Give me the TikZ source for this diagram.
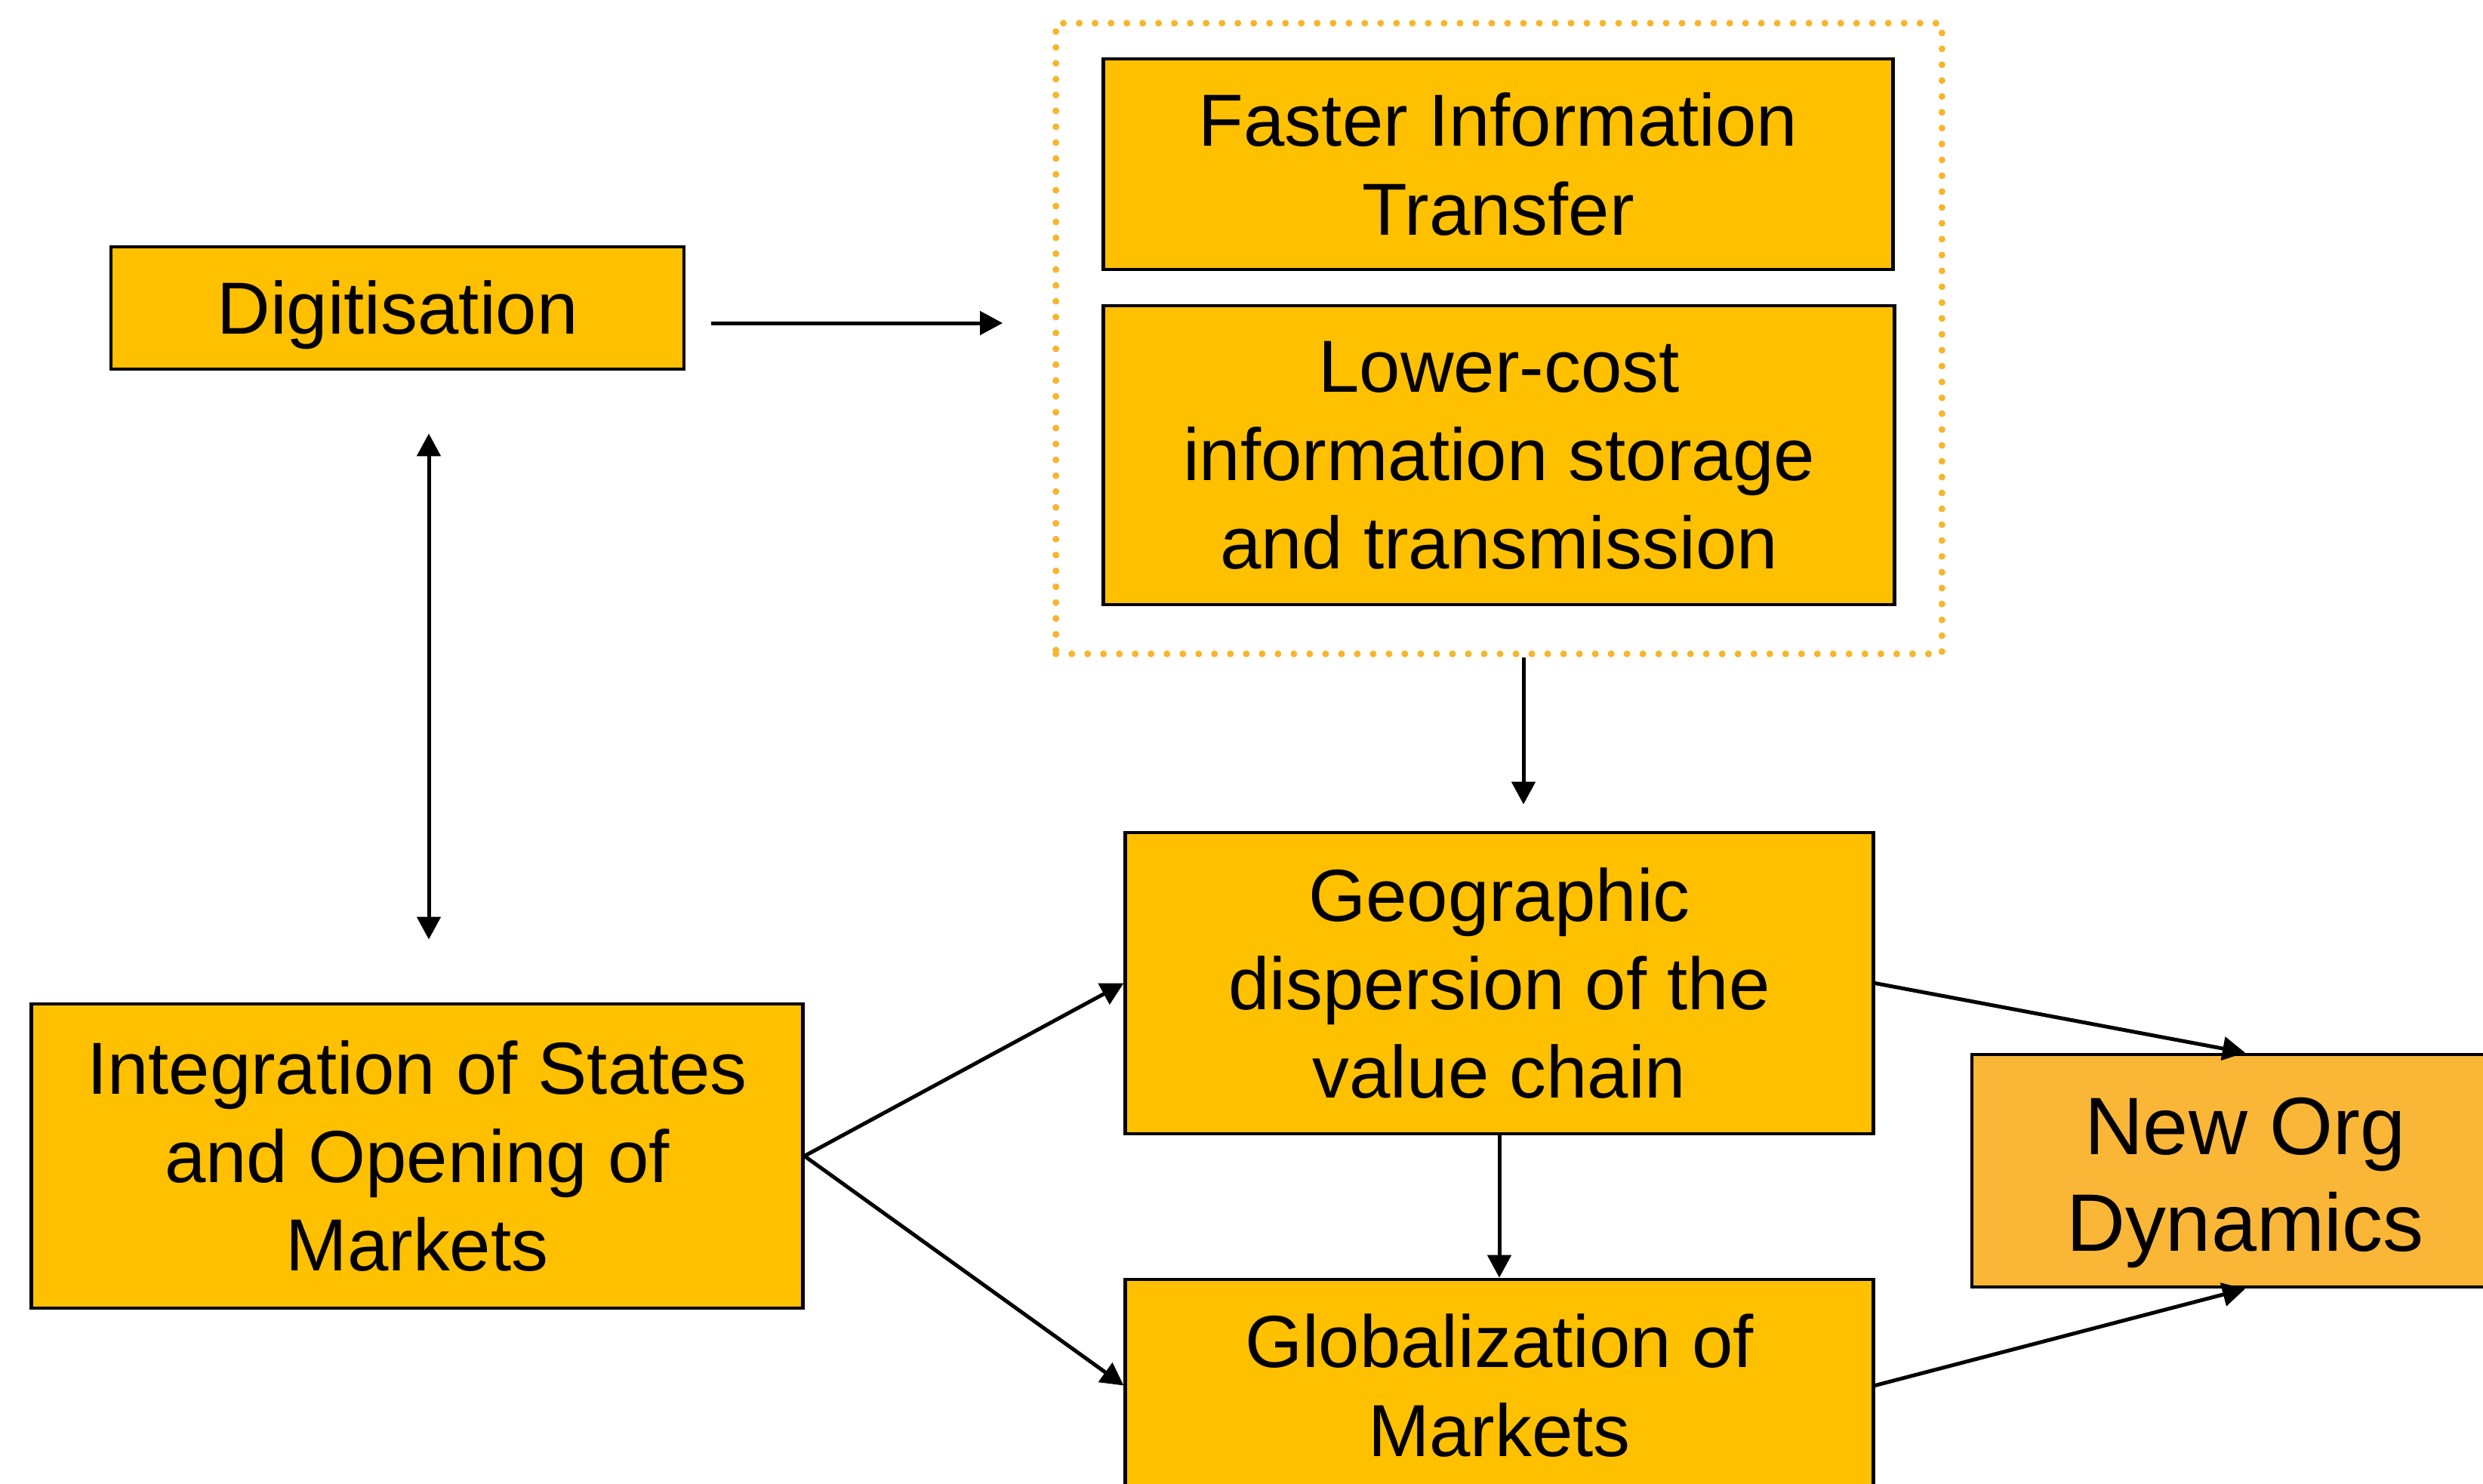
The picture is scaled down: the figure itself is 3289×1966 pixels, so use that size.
\documentclass[tikz,border=0pt]{standalone}
\usepackage{fontspec}
\setmainfont{Liberation Sans}
\usetikzlibrary{arrows.meta,calc}
\definecolor{boxgold}{HTML}{FFC000}
\definecolor{orgorange}{HTML}{FAB636}
\definecolor{dotorange}{HTML}{F7B52C}
\tikzset{
  gbox/.style={draw=black, line width=0.045cm, fill=boxgold, inner sep=0pt, align=center,
    font=\fontsize{27.8}{33.3}\selectfont},
  tip/.style={Triangle[length=0.30cm,width=0.31cm]},
  arr/.style={draw=black, line width=0.05cm, -{Triangle[length=0.30cm,width=0.31cm]}},
  darr/.style={draw=black, line width=0.05cm, {Triangle[length=0.30cm,width=0.31cm]}-{Triangle[length=0.30cm,width=0.31cm]}},
  dotframe/.style={draw=dotorange, line width=0.09cm, line cap=round, dash pattern=on 0pt off 0.21cm, inner sep=0pt}
}
\begin{document}
\begin{tikzpicture}[x=0.01cm,y=-0.01cm]
\useasboundingbox (0,0) rectangle (3289,1966);
\fill[white] (0,0) rectangle (3289,1966);

\node[dotframe, minimum width=11.73cm, minimum height=8.35cm] (dotbox) at (1985.5,448.5) {};
\node[gbox, minimum width=7.59cm, minimum height=1.62cm, text height=0.90cm] (dig) at (526.5,408) {Digitisation};
\node[gbox, minimum width=10.45cm, minimum height=2.79cm] (fit) at (1984.5,217.5) {Faster Information\\Transfer};
\node[gbox, minimum width=10.47cm, minimum height=3.96cm] (low) at (1985.5,603) {Lower-cost\\information storage\\and transmission};
\node[gbox, minimum width=9.90cm, minimum height=3.99cm] (geo) at (1986,1302.5) {Geographic\\dispersion of the\\value chain};
\node[gbox, minimum width=9.90cm, minimum height=2.81cm] (glob) at (1986,1835.5) {Globalization of\\Markets};
\node[gbox, minimum width=10.21cm, minimum height=4.03cm] (integ) at (552.5,1531.5) {Integration of States\\and Opening of\\Markets};
\node[gbox, fill=orgorange, minimum width=7.24cm, minimum height=3.08cm] (org) at (2974,1551) {};
\node[align=center, inner sep=0pt, font=\fontsize{30.7}{36.3}\selectfont] (orgtext) at (2974,1567) {New Org\\Dynamics};

\coordinate (vx) at (568,0);
\coordinate (gx) at (2018,0);
\coordinate (hy) at (0,428);

\draw[arr, shorten <=0.34cm, shorten >=0.66cm] (dig.east |- hy) -- (dotbox.west |- hy);
\draw[darr, shorten <=0.83cm, shorten >=0.83cm] (dig.south -| vx) -- (integ.north -| vx);
\draw[arr, shorten >=0.35cm] (dotbox.south -| gx) -- (geo.north -| gx);
\draw[arr] (geo.south) -- (glob.north);
\draw[arr] (integ.east) -- (geo.west);
\draw[arr] (integ.east) -- (glob.west);
\draw[arr] (geo.east) -- (org.north);
\draw[arr] (glob.east) -- (org.south);
\end{tikzpicture}
\end{document}
